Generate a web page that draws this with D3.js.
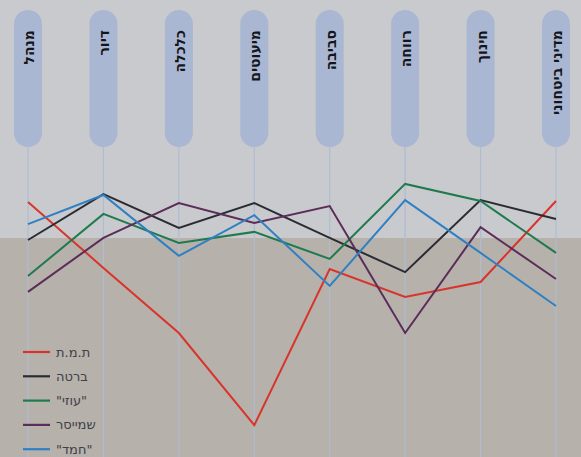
<!DOCTYPE html>
<html><head><meta charset="utf-8">
<script src="https://cdn.jsdelivr.net/npm/d3@7"></script>
<style>html,body{margin:0;padding:0;background:#c8c9cc;}svg{display:block;}</style>
</head><body>
<svg id="chart" width="581" height="457"></svg>
<script>
const categories = ["מנהל","דיור","כלכלה","מיעוטים","סביבה","רווחה","חינוך","מדיני ביטחוני"];
const seriesNames = ["ת.מ.ת","ברטה","\"עוזי\"","שמייסר","\"חמד\""];
const seriesColors = ["#d9342b","#2b2b33","#1f7a4d","#5b2d58","#2f80c2"];
const valsTMT    = [82.7, 60.7, 39.0, 8.3, 60.3, 51.0, 56.0, 83.0];
const valsBarta  = [70.0, 85.3, 74.0, 82.3, 70.7, 59.3, 83.3, 77.0];
const valsUzi    = [58.0, 78.7, 69.0, 72.7, 63.7, 88.7, 83.0, 65.7];
const valsSchm   = [52.7, 70.7, 82.3, 75.7, 81.3, 39.0, 74.3, 57.0];
const valsHamad  = [75.3, 85.0, 64.7, 78.3, 54.7, 83.3, 65.7, 48.0];
const series = [valsTMT, valsBarta, valsUzi, valsSchm, valsHamad];

const svg = d3.select("#chart");
const W = 581, H = 457;
svg.append("rect").attr("x",0).attr("y",0).attr("width",W).attr("height",H).attr("fill","#c9cacd");
svg.append("rect").attr("x",0).attr("y",238).attr("width",W).attr("height",H-238).attr("fill","#b6b1ab");

const x = d3.scalePoint().domain(categories).range([28, 556]);
const y = d3.scaleLinear().domain([0, 100]).range([450, 150]);

svg.append("g").selectAll("line").data(categories).join("line")
  .attr("x1", d => x(d)).attr("x2", d => x(d))
  .attr("y1", 146).attr("y2", H)
  .attr("stroke", "#aebcd4").attr("stroke-width", 1.2);

const pills = svg.append("g").selectAll("g").data(categories).join("g")
  .attr("transform", d => `translate(${x(d)},0)`);
pills.append("rect").attr("x",-14).attr("y",10).attr("width",28).attr("height",137)
  .attr("rx",14).attr("fill","#aab7d2");
pills.append("text")
  .attr("transform","translate(1,30) rotate(-90)")
  .attr("text-anchor","end")
  .attr("dominant-baseline","central")
  .attr("font-family","DejaVu Sans, sans-serif")
  .attr("font-weight","bold").attr("font-size",14)
  .attr("fill","#15151a")
  .text(d => d);

const line = d3.line().x((d,i) => x(categories[i])).y(d => y(d));
svg.append("g").selectAll("path").data(series).join("path")
  .attr("d", d => line(d))
  .attr("fill","none")
  .attr("stroke",(d,i) => seriesColors[i])
  .attr("stroke-width",2)
  .attr("stroke-linejoin","miter");

const leg = svg.append("g").selectAll("g").data(seriesNames).join("g")
  .attr("transform",(d,i) => `translate(0,${352 + i*24.3})`);
leg.append("line").attr("x1",23).attr("x2",50).attr("y1",0).attr("y2",0)
  .attr("stroke",(d,i) => seriesColors[i]).attr("stroke-width",2.2);
leg.append("text").attr("x",56).attr("y",0)
  .attr("dominant-baseline","central")
  .attr("font-family","DejaVu Sans, sans-serif").attr("font-size",13)
  .attr("fill","#404048")
  .text(d => d);
</script>
</body></html>
